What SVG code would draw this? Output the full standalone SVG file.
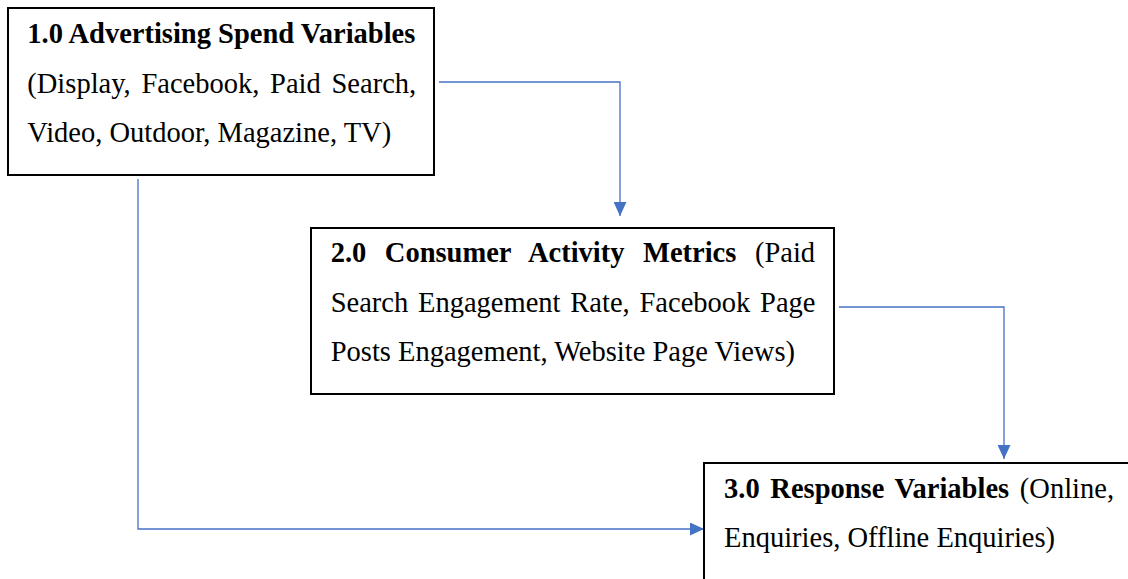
<svg xmlns="http://www.w3.org/2000/svg" width="1128" height="579" viewBox="0 0 1128 579">
  <style>
    .box { fill: #ffffff; stroke: #000000; stroke-width: 2; }
    .txt { font-family: "Liberation Serif", "Times New Roman", serif; font-size: 28.5px; fill: #000000; }
    .b { font-weight: bold; }
    .link { fill: none; stroke: #4472C4; stroke-width: 1.3; }
  </style>
  <defs>
    <marker id="arrow" viewBox="0 0 14 13" refX="14" refY="6.5" markerWidth="14" markerHeight="13" markerUnits="userSpaceOnUse" orient="auto">
      <path d="M0,0 L14,6.5 L0,13 Z" fill="#4472C4"/>
    </marker>
  </defs>

  <rect width="1128" height="579" fill="#ffffff"/>

  <!-- connectors -->
  <g id="connectors">
    <path class="link" d="M439,82 H620 V216" marker-end="url(#arrow)"/>
    <path class="link" d="M839,307 H1004 V459" marker-end="url(#arrow)"/>
    <path class="link" d="M138,179 V529 H704" marker-end="url(#arrow)"/>
  </g>

  <!-- 1.0 advertising spend -->
  <g id="node-advertising">
    <rect class="box" x="8" y="8" width="426" height="167"/>
    <text class="txt b" x="27.3" y="43">1.0 Advertising Spend Variables</text>
    <text class="txt" x="27.3" y="92.5" word-spacing="3.6">(Display, Facebook, Paid Search,</text>
    <text class="txt" x="27.3" y="141.5">Video, Outdoor, Magazine, TV)</text>
  </g>

  <!-- 2.0 consumer activity -->
  <g id="node-consumer">
    <rect class="box" x="311" y="228" width="523" height="166"/>
    <text class="txt" x="330.7" y="262" word-spacing="11.4"><tspan class="b">2.0 Consumer Activity Metrics</tspan> (Paid</text>
    <text class="txt" x="330.7" y="311.5" word-spacing="2.7">Search Engagement Rate, Facebook Page</text>
    <text class="txt" x="330.7" y="361">Posts Engagement, Website Page Views)</text>
  </g>

  <!-- 3.0 response -->
  <g id="node-response">
    <rect class="box" x="704" y="463" width="440" height="140"/>
    <text class="txt" x="724" y="498" word-spacing="3.6"><tspan class="b">3.0 Response Variables</tspan> (Online,</text>
    <text class="txt" x="724" y="547">Enquiries, Offline Enquiries)</text>
  </g>
</svg>
